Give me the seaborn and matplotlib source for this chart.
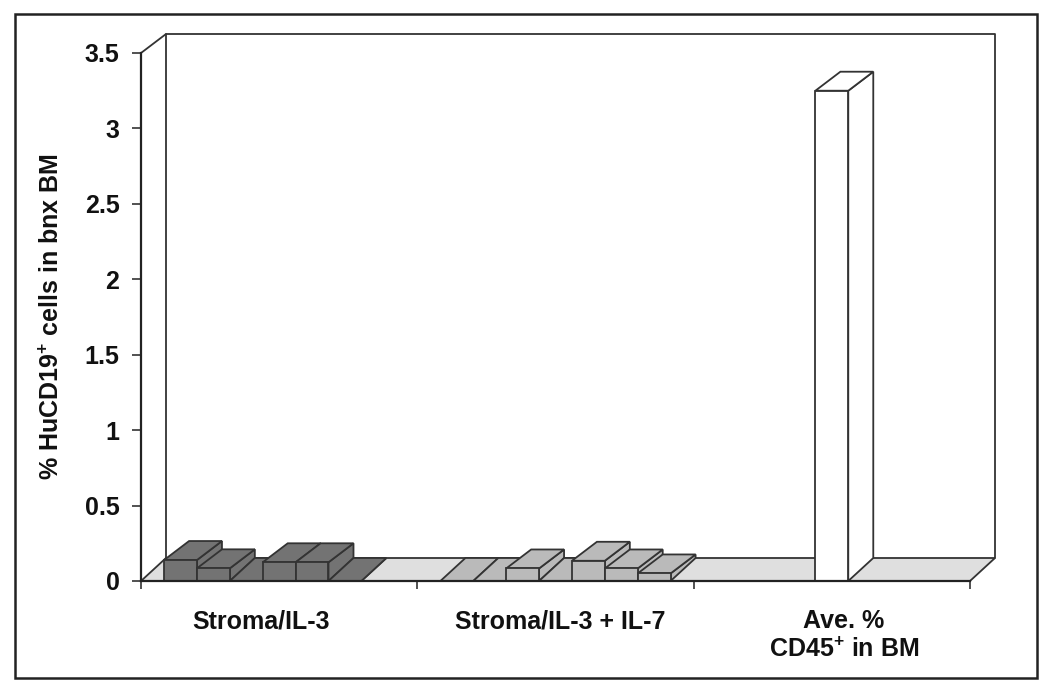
import numpy as np
import pandas as pd
import matplotlib
matplotlib.use('Agg')
import matplotlib.pyplot as plt
from matplotlib.patches import Polygon, Rectangle
import seaborn as sns

# 데이터
groups = ['Stroma/IL-3', 'Stroma/IL-3 + IL-7', 'Ave. %\nCD45$^{+}$ in BM']
slots = ['a', 'b', 'c', 'd', 'e', 'f', 'g']
vals_il3 = [0.139, 0.084, 0, 0.124, 0.124, 0, np.nan]
vals_il7 = [0, 0, 0.083, 0, 0.134, 0.083, 0.05]
vals_cd45 = [np.nan, np.nan, np.nan, 3.25, np.nan, np.nan, np.nan]
group_colors = ['#737373', '#bababa', '#ffffff']
y_ticks = [0, 0.5, 1, 1.5, 2, 2.5, 3, 3.5]
y_labels = ['0', '0.5', '1', '1.5', '2', '2.5', '3', '3.5']

rows = []
for g, vals in zip(groups, [vals_il3, vals_il7, vals_cd45]):
    for s, v in zip(slots, vals):
        rows.append({'group': g, 'slot': s, 'value': v})
df = pd.DataFrame(rows).dropna()

sns.set_theme(style='white')
plt.rcParams['font.family'] = ['Liberation Sans', 'DejaVu Sans']
plt.rcParams['font.weight'] = 'bold'
plt.rcParams['mathtext.fontset'] = 'custom'
plt.rcParams['mathtext.rm'] = 'Liberation Sans:bold'
plt.rcParams['mathtext.default'] = 'rm'

W, H = 1050, 691
fig = plt.figure(figsize=(W / 100, H / 100), dpi=100)
ax = fig.add_axes([141 / W, 1 - 581 / H, 829 / W, 528 / H])

sns.barplot(data=df, x='group', y='value', hue='slot', order=groups, hue_order=slots,
            width=0.833, gap=0, dodge=True, errorbar=None, legend=False, ax=ax)
ax.set_xlim(-0.5, 2.5)
ax.set_ylim(0, 3.5)

# 막대 목록 먼저 저장
bars = sorted([p for p in ax.patches if isinstance(p, Rectangle)], key=lambda p: p.get_x())

# 픽셀 -> 데이터 단위
px_x = 3 / 829
px_y = 3.5 / 528
edge = '#333333'
lw = 1.3

# 뒷벽, 바닥
dx = 25 * px_x
dy_top = 19 * px_y
dy_floor = 23 * px_y
ax.add_patch(Polygon([(-0.5, 0), (-0.5 + dx, dy_floor), (2.5 + dx, dy_floor), (2.5, 0)],
                     closed=True, fc='#dfdfdf', ec=edge, lw=lw, clip_on=False, zorder=0.5))
ax.plot([-0.5, -0.5 + dx, 2.5 + dx, 2.5 + dx],
        [3.5, 3.5 + dy_top, 3.5 + dy_top, dy_floor],
        color=edge, lw=lw, clip_on=False, zorder=0.6)
ax.plot([-0.5 + dx, -0.5 + dx], [dy_floor, 3.5 + dy_top],
        color=edge, lw=lw, clip_on=False, zorder=0.6)

# 막대 옆면, 윗면 (왼쪽부터 차례로)
for i, p in enumerate(bars):
    x0 = p.get_x()
    x1 = x0 + p.get_width()
    h = p.get_height()
    if np.isnan(h) or p.get_width() == 0:
        continue
    color = group_colors[int(round(x0 + p.get_width() / 2))]
    z = 2 + i
    top_dy = dy_floor if h == 0 else dy_top
    p.set_facecolor(color)
    p.set_edgecolor(edge)
    p.set_linewidth(lw)
    p.set_zorder(z + 0.2)
    ax.add_patch(Polygon([(x1, 0), (x1 + dx, dy_floor), (x1 + dx, h + top_dy), (x1, h)],
                         closed=True, fc=color, ec=edge, lw=lw, clip_on=False, zorder=z))
    ax.add_patch(Polygon([(x0, h), (x0 + dx, h + top_dy), (x1 + dx, h + top_dy), (x1, h)],
                         closed=True, fc=color, ec=edge, lw=lw, clip_on=False, zorder=z + 0.1))

# 축
sns.despine(ax=ax)
for s in ['left', 'bottom']:
    ax.spines[s].set_color('#222222')
    ax.spines[s].set_linewidth(1.6)
    ax.spines[s].set_zorder(50)
ax.set_yticks(y_ticks)
ax.set_yticklabels(y_labels, fontsize=18, fontweight='bold', color='#111111')
ax.tick_params(axis='y', left=True, length=6.5, width=1.2, color='#333333', pad=9)

# 그룹 라벨은 원본처럼 중앙에서 조금씩 어긋남
ax.set_xticks([-0.066, 1.016, 2.044])
ax.set_xticklabels(groups, fontsize=18, fontweight='bold', color='#111111', linespacing=1.2)
ax.set_xticks([-0.5, 0.5, 1.5, 2.5], minor=True)
ax.tick_params(axis='x', which='major', bottom=False, length=0, pad=20.5)
ax.tick_params(axis='x', which='minor', bottom=True, length=6, width=1.2, color='#333333')
ax.set_xlabel('')
ax.set_ylabel('% HuCD19$^{+}$ cells in bnx BM', fontsize=18, fontweight='bold', color='#111111')
ax.yaxis.set_label_coords(-0.093, 0.5)
ax.patch.set_alpha(0)

# 바깥 테두리
fig.add_artist(Rectangle((14.5 / W, 1 - 678 / H), 1022 / W, 664 / H, fill=False,
                         ec='#222222', lw=1.8, transform=fig.transFigure))

fig.savefig('out.png', dpi=100)
